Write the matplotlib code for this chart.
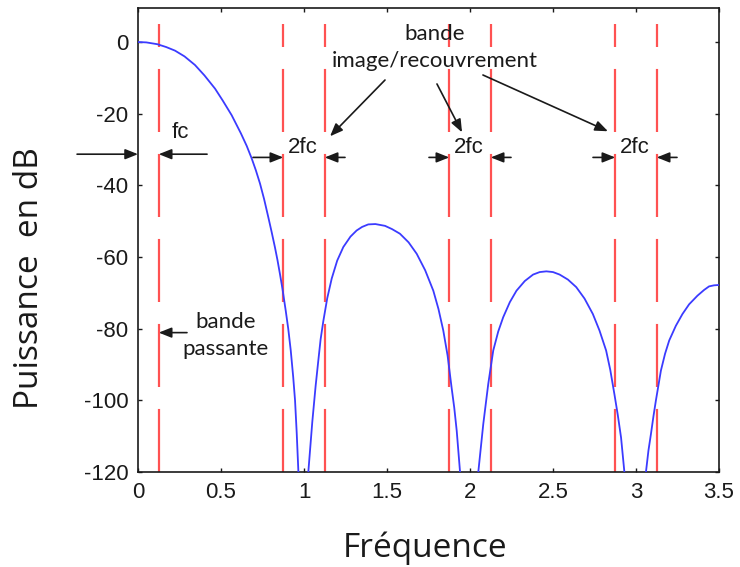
import matplotlib
matplotlib.use("Agg")
import matplotlib.pyplot as plt
import numpy as np

# Courbe (frequence normalisee, puissance en dB)
FREQ = [0.0, 0.05, 0.116, 0.17, 0.223, 0.28, 0.343, 0.40, 0.464, 0.51, 0.564,
        0.62, 0.655, 0.685, 0.71, 0.735, 0.76, 0.785, 0.805, 0.825, 0.84, 0.855,
        0.87, 0.89, 0.905, 0.92, 0.935, 0.946, 0.956, 0.966, 0.985,
        1.015, 1.026, 1.05, 1.07, 1.086, 1.10, 1.116, 1.14, 1.167, 1.20, 1.237,
        1.28, 1.317, 1.35, 1.387, 1.43, 1.488, 1.53, 1.578, 1.63, 1.679, 1.73,
        1.779, 1.81, 1.839, 1.865, 1.889, 1.905, 1.92, 1.94, 1.96,
        2.03, 2.05, 2.08, 2.11, 2.14, 2.17, 2.20, 2.24, 2.28, 2.33, 2.38, 2.42,
        2.46, 2.50, 2.54, 2.59, 2.64, 2.69, 2.74, 2.78, 2.82, 2.845, 2.87, 2.89,
        2.91, 2.93, 2.95,
        3.04, 3.06, 3.075, 3.09, 3.105, 3.12, 3.15, 3.175, 3.20, 3.24, 3.28,
        3.32, 3.37, 3.41, 3.44, 3.47, 3.5]
PUISSANCE_DB = [0.0, -0.1, -0.6, -1.4, -2.4, -4.0, -6.4, -9.3, -13.0, -16.3, -20.4,
                -25.5, -29.0, -32.5, -35.8, -39.5, -43.9, -48.9, -53.0, -57.3, -60.8, -64.7,
                -68.8, -75.0, -80.0, -86.0, -93.5, -100.0, -109.0, -119.7, -140.0,
                -140.0, -120.0, -106.0, -96.0, -89.0, -83.0, -78.0, -71.5, -66.0, -61.0, -57.2,
                -54.3, -52.6, -51.6, -50.9, -50.8, -51.3, -52.2, -53.5, -55.9, -59.1, -63.7,
                -69.4, -74.5, -80.5, -87.5, -96.4, -102.0, -108.5, -120.0, -140.0,
                -140.0, -120.0, -106.6, -95.4, -86.1, -80.8, -76.8, -72.6, -69.4, -66.7, -64.9, -64.2,
                -64.0, -64.2, -64.9, -66.3, -68.4, -71.6, -75.9, -80.5, -86.1, -91.5, -98.3, -104.0,
                -110.4, -120.0, -140.0,
                -140.0, -120.0, -114.0, -109.4, -104.5, -100.0, -91.7, -87.0, -83.3, -79.2, -75.9,
                -73.2, -70.8, -69.2, -68.2, -67.9, -67.8]

# bornes des bandes (traits rouges)
FC = 0.125
BANDES = [FC, 1 - FC, 1 + FC, 2 - FC, 2 + FC, 3 - FC, 3 + FC]
CENTRES_IMAGES = [1, 2, 3]

XTICKS = [0, 0.5, 1, 1.5, 2, 2.5, 3, 3.5]
XTICK_LABELS = ["0", "0.5", "1", "1.5", "2", "2.5", "3", "3.5"]
YTICKS = [-120, -100, -80, -60, -40, -20, 0]
YTICK_LABELS = ["-120", "-100", "-80", "-60", "-40", "-20", "0"]

BLEU = "#3b3bff"
ROUGE = "#ff5252"
NOIR = "#1a1a1a"

fig = plt.figure(figsize=(7.4, 5.67), dpi=100)
ax = fig.add_axes([138 / 740, 1 - 472 / 567, 581 / 740, 464 / 567])

ax.plot(FREQ, PUISSANCE_DB, color=BLEU, lw=1.3, zorder=3)

# traits rouges tiretes, de -120 jusqu'a +5 dB
lw_r = 1.6
for xb in BANDES:
    ax.plot([xb, xb], [-120, 5], color=ROUGE, lw=lw_r,
            dashes=[45.4 / lw_r, 15.8 / lw_r], zorder=2)

ax.set_xlim(0, 3.5)
ax.set_ylim(-120, 9.5)
ax.set_xticks(XTICKS)
ax.set_xticklabels(XTICK_LABELS)
ax.set_yticks(YTICKS)
ax.set_yticklabels(YTICK_LABELS)
ax.tick_params(direction="in", top=True, right=True, length=3, width=1,
               color=NOIR, labelcolor=NOIR, labelsize=16)
ax.tick_params(axis="x", pad=7)
ax.tick_params(axis="y", pad=7)
for lab in ax.get_xticklabels() + ax.get_yticklabels():
    lab.set_family("Liberation Sans")
for s in ax.spines.values():
    s.set_linewidth(1.2)
    s.set_color(NOIR)

fig.text(425 / 740, 1 - 548 / 567, "Fréquence", family="Open Sans",
         fontsize=24, ha="center", va="center", color=NOIR)
fig.text(30 / 740, 1 - 278 / 567, "Puissance  en dB", family="Open Sans",
         fontsize=24, ha="center", va="center", rotation=90, color=NOIR)

# fleches
def fleche(x0, y0, x1, y1):
    ax.annotate("", xy=(x1, y1), xytext=(x0, y0), annotation_clip=False,
                arrowprops=dict(arrowstyle="-|>,head_length=0.55,head_width=0.22",
                                color=NOIR, lw=1.2, shrinkA=0, shrinkB=0,
                                mutation_scale=14))

y_fc = -31.3
fleche(-0.367, y_fc, 0, y_fc)
fleche(0.416, y_fc, FC, y_fc)
ax.text(0.253, -25.2, "fc", family="Liberation Sans", fontsize=16,
        ha="center", va="center", color=NOIR)

y_2fc = -32.2
ext = [(0.693, 1.247), (1.753, 2.247), (2.741, 3.247)]
for k, c in enumerate(CENTRES_IMAGES):
    fleche(ext[k][0], y_2fc, c - FC, y_2fc)
    fleche(ext[k][1], y_2fc, c + FC, y_2fc)
    ax.text(c - 0.01, -29.5, "2fc", family="Liberation Sans", fontsize=16,
            ha="center", va="center", color=NOIR)

ax.text(1.789, -1.5, "bande\nimage/recouvrement", family="Lato", fontsize=16,
        ha="center", va="center", linespacing=1.45, color=NOIR)
fleche(1.488, -10.6, 1.157, -26.3)
fleche(1.801, -11.7, 1.952, -25.2)
fleche(2.078, -9.2, 2.831, -24.9)

ax.text(0.527, -81.8, "bande\npassante", family="Lato", fontsize=16,
        ha="center", va="center", linespacing=1.45, color=NOIR)
fleche(0.295, -81.1, FC, -81.1)

fig.savefig("out.png", dpi=100)
